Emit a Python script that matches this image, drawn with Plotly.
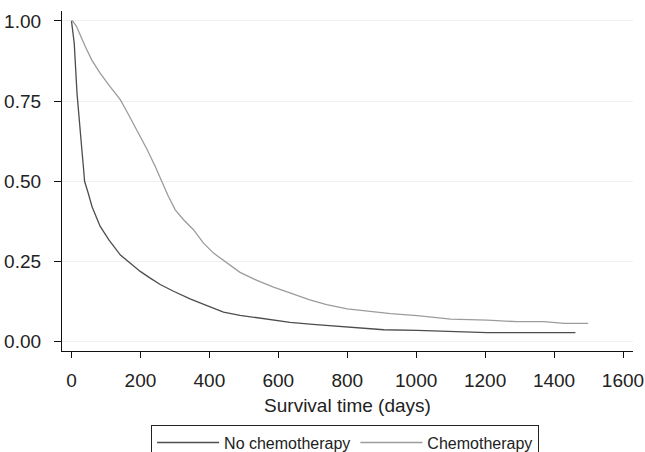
import plotly.graph_objects as go

# Kaplan-Meier survival estimates
no_chemo_t = [0, 8, 16, 23.5, 30, 35, 38, 48, 60, 83, 108, 142, 166, 199.5, 228.5, 257.5, 296,
              344, 393, 441, 489, 538, 586, 634, 700, 800, 906, 1003, 1100, 1206, 1462]
no_chemo_s = [1.0, 0.93, 0.775, 0.67, 0.60, 0.54, 0.50, 0.465, 0.42, 0.36, 0.318, 0.27, 0.248,
              0.219, 0.198, 0.178, 0.157, 0.133, 0.112, 0.092, 0.082, 0.074, 0.066, 0.060, 0.054,
              0.046, 0.037, 0.035, 0.031, 0.028, 0.028]

chemo_t = [0, 3, 14, 25, 40, 59, 83, 112, 142, 161, 190, 219, 243, 262, 281, 301, 325, 354, 383,
           412, 451, 489, 538, 586, 634, 663, 689, 740, 800, 926, 1003, 1100, 1206, 1293, 1371,
           1429, 1499]
chemo_s = [1.0, 1.0, 0.984, 0.956, 0.92, 0.878, 0.837, 0.795, 0.754, 0.717, 0.66, 0.600, 0.546,
           0.50, 0.453, 0.411, 0.380, 0.349, 0.307, 0.276, 0.245, 0.216, 0.191, 0.170, 0.152,
           0.141, 0.131, 0.115, 0.102, 0.087, 0.081, 0.070, 0.067, 0.062, 0.062, 0.057, 0.057]

series_names = ["No chemotherapy", "Chemotherapy"]
x_ticks = [0, 200, 400, 600, 800, 1000, 1200, 1400, 1600]
y_ticks = [0, 0.25, 0.5, 0.75, 1.0]
x_title = "Survival time (days)"

FONT = "Liberation Sans, Arial, Helvetica, sans-serif"

fig = go.Figure()
fig.add_trace(go.Scatter(x=no_chemo_t, y=no_chemo_s, mode="lines", name=series_names[0],
                         line=dict(color="#4d4d4d", width=1.3)))
fig.add_trace(go.Scatter(x=chemo_t, y=chemo_s, mode="lines", name=series_names[1],
                         line=dict(color="#9c9c9c", width=1.3)))

fig.update_layout(
    width=645, height=452,
    margin=dict(l=62, r=12, t=11, b=101, autoexpand=False),
    paper_bgcolor="white", plot_bgcolor="white",
    font=dict(family=FONT, size=19, color="#222222"),
    showlegend=True,
    legend=dict(orientation="h", x=0.156, xanchor="left", y=-0.2165, yanchor="top",
                bordercolor="#222222", borderwidth=1, bgcolor="white",
                font=dict(size=16, color="#222222"), itemwidth=62,
                tracegroupgap=0),
)
fig.update_xaxes(range=[-27.5, 1629], tickvals=x_ticks, showgrid=False, zeroline=False,
                 showline=True, linecolor="#111111", linewidth=1.2,
                 ticks="outside", ticklen=6, tickcolor="#111111", tickwidth=1.2,
                 ticklabelstandoff=6,
                 title=dict(text=x_title, standoff=8, font=dict(size=19)))
fig.update_yaxes(range=[-0.0293, 1.031], tickvals=y_ticks, tickformat=".2f",
                 showgrid=True, gridcolor="#f0f0f0", gridwidth=1, zeroline=False,
                 showline=True, linecolor="#111111", linewidth=1.2,
                 ticks="outside", ticklen=7, tickcolor="#111111", tickwidth=1.2,
                 ticklabelstandoff=9)

fig.write_html("out.html", config={"displayModeBar": False},
               post_script="document.body.style.margin='0';")
